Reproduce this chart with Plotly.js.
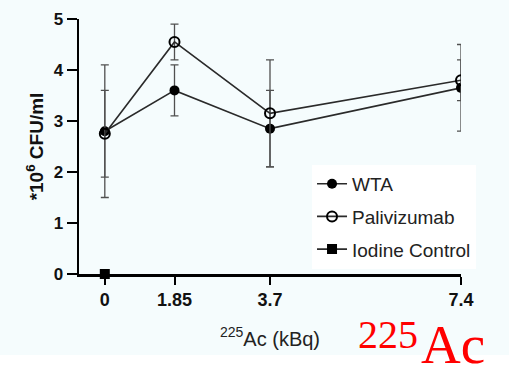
<!DOCTYPE html>
<html>
<head>
<meta charset="utf-8">
<script src="https://cdn.plot.ly/plotly-3.0.1.min.js"></script>
<style>html,body{margin:0;padding:0;background:#f5fcfd;}</style>
</head>
<body>
<div id="chart" style="width:509px;height:371px;"></div>
<script>
// Dose (kBq) and tick labels
const doseLabels = ['0', '1.85', '3.7', '7.4'];
const dose = [0, 1.85, 3.7, 7.4];
// WTA
const wtaMean = [2.8, 3.6, 2.85, 3.65];
const wtaErr = [1.3, 0.5, 0.75, 0.85];
// Palivizumab
const paliMean = [2.75, 4.55, 3.15, 3.8];
const paliErr = [0.85, 0.35, 1.05, 0.4];
// Iodine control
const iodineDose = [0];
const iodineMean = [0];

// the original chart draws the zero dose slightly right of the y axis
const place = d => (d === 0 ? 0.5 : d);
const xPlot = dose.map(place);

const lineColor = '#2a2a2a';
const errStyle = {type: 'data', visible: true, color: '#505050', thickness: 1.3, width: 4};

const traces = [
  {
    name: 'WTA', legendgroup: 'a', x: xPlot, y: wtaMean, type: 'scatter', mode: 'lines+markers',
    line: {color: lineColor, width: 1.6},
    marker: {symbol: 'circle', size: 10, color: '#000'},
    error_y: Object.assign({array: wtaErr}, errStyle)
  },
  {
    name: 'Palivizumab', legendgroup: 'b', x: xPlot, y: paliMean, type: 'scatter', mode: 'lines+markers',
    line: {color: lineColor, width: 1.6},
    marker: {symbol: 'circle-open', size: 10, color: '#000', line: {width: 2, color: '#000'}},
    error_y: Object.assign({array: paliErr}, errStyle)
  },
  {
    name: 'Iodine Control', legendgroup: 'c', x: iodineDose.map(place), y: iodineMean, type: 'scatter', mode: 'lines+markers',
    line: {color: lineColor, width: 1.6},
    marker: {symbol: 'square', size: 10, color: '#000'},
    cliponaxis: false
  }
];

const layout = {
  width: 509, height: 371,
  margin: {l: 79, r: 48, t: 19, b: 97},
  paper_bgcolor: '#f5fcfd', plot_bgcolor: '#f5fcfd',
  font: {family: 'Arial, Liberation Sans, sans-serif', color: '#111'},
  showlegend: true,
  legend: {
    x: 0.61, y: 0.428, xanchor: 'left', yanchor: 'top',
    bgcolor: '#ffffff', borderwidth: 0,
    font: {size: 19, color: '#222'},
    tracegroupgap: 5
  },
  xaxis: {
    range: [0, 7.4], showgrid: false, zeroline: false,
    showline: true, linecolor: '#000', linewidth: 2.5,
    ticks: 'outside', ticklen: 8, tickwidth: 2, tickcolor: '#000',
    tickvals: xPlot, ticktext: doseLabels,
    tickfont: {size: 18, color: '#111', weight: 'bold'},
    title: {text: '<sup>225</sup>Ac (kBq)', font: {size: 20, color: '#222'}}
  },
  yaxis: {
    range: [0, 5], showgrid: false, zeroline: false,
    showline: true, linecolor: '#000', linewidth: 2.5,
    ticks: 'outside', ticklen: 10, tickwidth: 2.5, tickcolor: '#000',
    tickvals: [0, 1, 2, 3, 4, 5],
    tickfont: {size: 17, color: '#111', weight: 'bold'},
    title: {text: '*10<sup>6</sup> CFU/ml', font: {size: 19, color: '#111', weight: 'bold'}, standoff: 5}
  },
  shapes: [
    {type: 'rect', xref: 'paper', yref: 'paper', x0: -0.3, x1: 1.2, y0: -0.318, y1: -0.4,
     fillcolor: '#ffffff', line: {width: 0}, layer: 'below'}
  ],
  annotations: [
    {xref: 'paper', yref: 'paper', x: 0.726, y: -0.236, xanchor: 'left', yanchor: 'middle',
     text: '225', showarrow: false, font: {family: 'Liberation Serif, Times New Roman, serif', size: 40, color: '#ff0000'}},
    {xref: 'paper', yref: 'paper', x: 0.891, y: -0.276, xanchor: 'left', yanchor: 'middle',
     text: 'Ac', showarrow: false, font: {family: 'Liberation Serif, Times New Roman, serif', size: 55, color: '#ff0000'}}
  ]
};

Plotly.newPlot('chart', traces, layout, {displayModeBar: false, staticPlot: true});
</script>
</body>
</html>
